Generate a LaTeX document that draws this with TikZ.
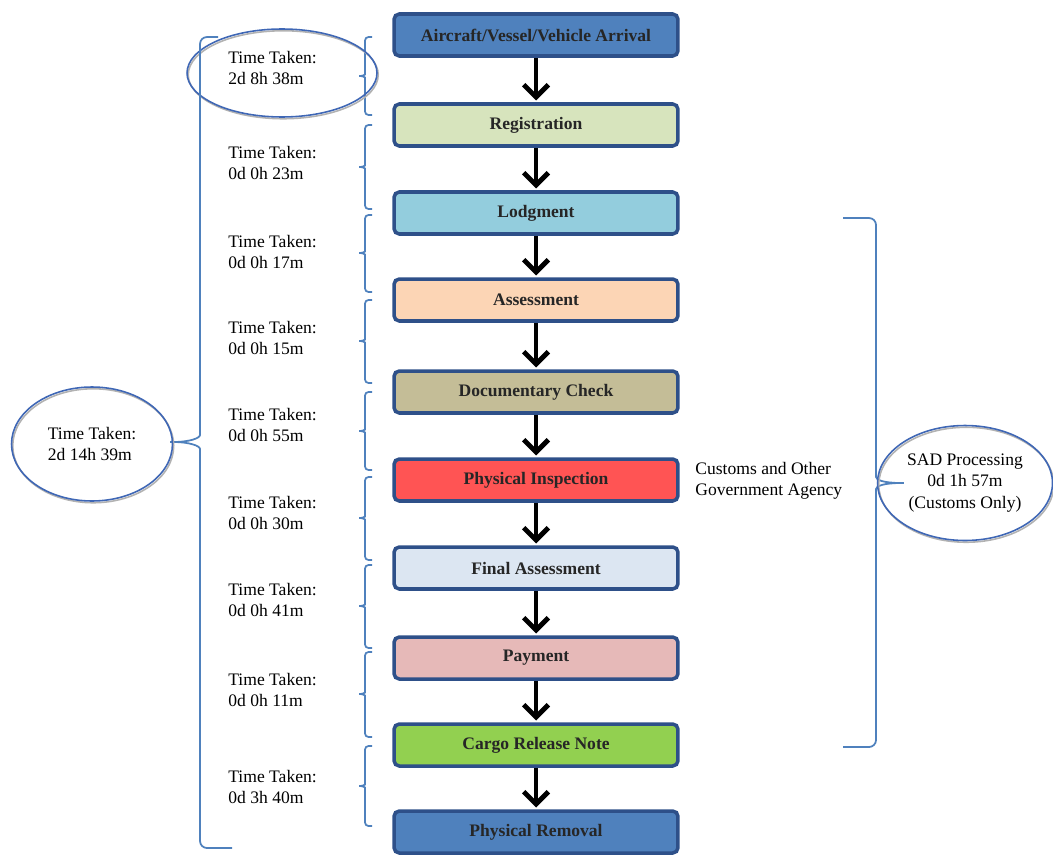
\documentclass[tikz,border=0pt]{standalone}
\usepackage{fontspec}
\setmainfont{Liberation Serif}
\usetikzlibrary{shapes.geometric,arrows.meta}

\definecolor{stageedge}{HTML}{2E5089}
\definecolor{arrivalblue}{HTML}{4F81BD}
\definecolor{regfill}{HTML}{D7E4BD}
\definecolor{lodgefill}{HTML}{93CDDD}
\definecolor{assessfill}{HTML}{FCD5B5}
\definecolor{docfill}{HTML}{C4BD97}
\definecolor{inspectfill}{HTML}{FF5454}
\definecolor{finalfill}{HTML}{DCE6F2}
\definecolor{payfill}{HTML}{E6B9B8}
\definecolor{releasefill}{HTML}{92D050}
\definecolor{braceblue}{HTML}{4F81BD}
\definecolor{ringblue}{HTML}{3F67B5}

\begin{document}
\begin{tikzpicture}[x=0.02cm, y=-0.02cm,
    stagebox/.style={draw=stageedge, line width=2pt, rounded corners=3pt,
        minimum width=5.68cm, minimum height=0.84cm, inner sep=2pt,
        font=\bfseries, text=black!85},
    flowarrow/.style={line width=2.8pt, -{Straight Barb[length=7pt,width=14pt]}, shorten >=1pt},
    timelabel/.style={anchor=west, align=left, inner sep=0pt},
    bracepen/.style={draw=braceblue, line width=1pt, rounded corners=2pt},
    ring/.style={ellipse, draw=ringblue, line width=0.9pt, inner sep=0pt,
        preaction={draw=black!30, line width=0.9pt, transform canvas={shift={(0.7pt,-1pt)}}}}]
    \useasboundingbox (0,0) rectangle (1053,855);

    % Process stages
    \node[stagebox, fill=arrivalblue] (arrival) at (536,35) {Aircraft/Vessel/Vehicle Arrival};
    \node[stagebox, fill=regfill] (registration) at (536,125) {Registration};
    \node[stagebox, fill=lodgefill] (lodgment) at (536,213) {Lodgment};
    \node[stagebox, fill=assessfill] (assessment) at (536,300) {Assessment};
    \node[stagebox, fill=docfill] (doccheck) at (536,392) {Documentary Check};
    \node[stagebox, fill=inspectfill] (inspection) at (536,480) {Physical Inspection};
    \node[stagebox, fill=finalfill] (finalcheck) at (536,568) {Final Assessment};
    \node[stagebox, fill=payfill] (payment) at (536,658) {Payment};
    \node[stagebox, fill=releasefill] (release) at (536,745) {Cargo Release Note};
    \node[stagebox, fill=arrivalblue] (removal) at (536,832) {Physical Removal};

    \foreach \a/\b in {arrival/registration, registration/lodgment, lodgment/assessment,
        assessment/doccheck, doccheck/inspection, inspection/finalcheck,
        finalcheck/payment, payment/release, release/removal}
        \draw[flowarrow] (\a) -- (\b);

    % Time between stages
    \foreach \y/\t [count=\i] in {68/2d 8h 38m, 163/0d 0h 23m, 252/0d 0h 17m,
        338/0d 0h 15m, 425/0d 0h 55m, 513/0d 0h 30m, 600/0d 0h 41m,
        690/0d 0h 11m, 787/0d 3h 40m}
        \node[timelabel] (time\i) at (228,\y) {Time Taken:\\\t};

    \foreach \top/\mid/\bot in {37/76/115, 125/167/209, 215/253/292, 300/341/383,
        392/431/470, 477/518/560, 565/606/648, 652/694/737, 746/786/826}
        \draw[bracepen] (372,\top) -- (365,\top) -- (365,\mid-5)
            .. controls (365,\mid-1) and (362,\mid) .. (357,\mid)
            .. controls (362,\mid) and (365,\mid+1) .. (365,\mid+5)
            -- (365,\bot) -- (372,\bot);

    \node[ring, minimum width=3.8cm, minimum height=1.76cm] (firstring) at (282,73) {};

    % Totals
    \draw[bracepen, rounded corners=4pt] (218,37) -- (200,37) -- (200,428)
        .. controls (200,438) and (190,442) .. (166,442)
        .. controls (190,442) and (200,446) .. (200,456) -- (200,848) -- (232,848);
    \node[ring, align=left, minimum width=3.22cm, minimum height=2.28cm] (totaltime) at (92,444)
        {Time Taken:\\2d 14h 39m};

    \draw[bracepen, rounded corners=4pt] (843,218) -- (876,218) -- (876,470)
        .. controls (876,480) and (884,483) .. (908,483)
        .. controls (884,483) and (876,486) .. (876,496) -- (876,747) -- (843,747);
    \node[ring, align=center, minimum width=3.5cm, minimum height=2.3cm] (sadtime) at (965,483)
        {SAD Processing\\0d 1h 57m\\(Customs Only)};

    \node[timelabel] (agency) at (695,481) {Customs and Other\\Government Agency};
\end{tikzpicture}
\end{document}
